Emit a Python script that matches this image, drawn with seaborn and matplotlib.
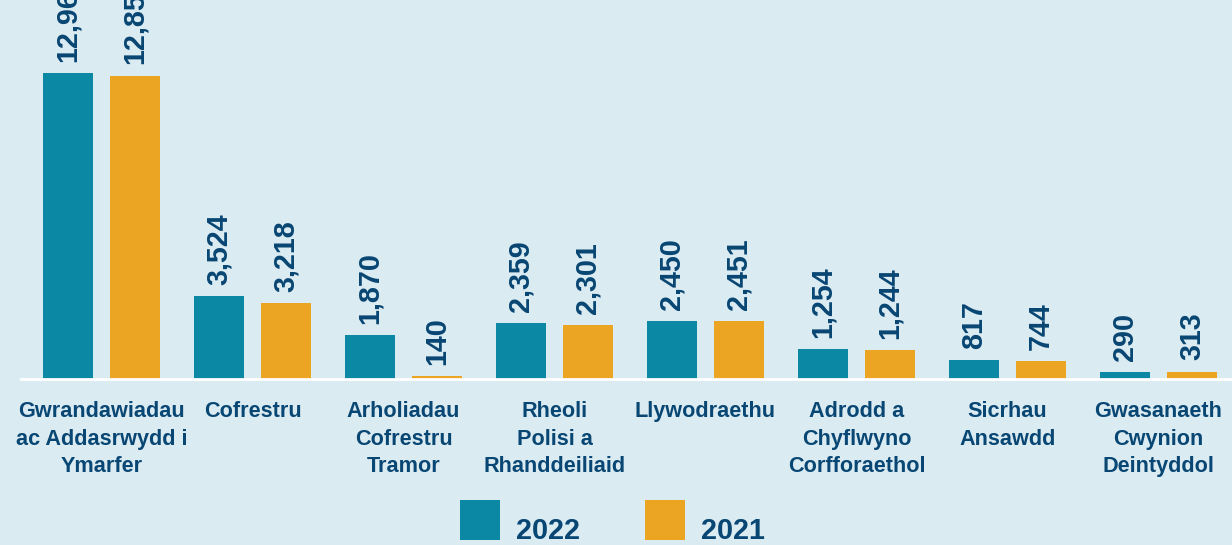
import pandas as pd
import matplotlib
matplotlib.use("Agg")
import matplotlib.pyplot as plt
from matplotlib.patches import Rectangle
import seaborn as sns

# data
categories = [
    "Gwrandawiadau\nac Addasrwydd i\nYmarfer",
    "Cofrestru",
    "Arholiadau\nCofrestru\nTramor",
    "Rheoli\nPolisi a\nRhanddeiliaid",
    "Llywodraethu",
    "Adrodd a\nChyflwyno\nCorfforaethol",
    "Sicrhau\nAnsawdd",
    "Gwasanaeth\nCwynion\nDeintyddol",
]
years = ["2022", "2021"]
values_2022 = [12960, 3524, 1870, 2359, 2450, 1254, 817, 290]
values_2021 = [12850, 3218, 140, 2301, 2451, 1244, 744, 313]

BG = "#dbebf2"
TEAL = "#0b89a4"
ORANGE = "#eba523"
NAVY = "#084673"
FONT = "Liberation Sans"

df = pd.DataFrame({
    "category": categories * 2,
    "year": [years[0]] * len(categories) + [years[1]] * len(categories),
    "value": values_2022 + values_2021,
})

sns.set_style("white")
plt.rcParams["font.family"] = [FONT, "DejaVu Sans"]

W, H = 1232, 545
fig = plt.figure(figsize=(W / 100, H / 100), dpi=100, facecolor=BG)
ax = fig.add_axes([21 / W, (H - 379) / H, (W - 21) / W, 379 / H])
ax.set_facecolor(BG)

sns.barplot(data=df, x="category", y="value", hue="year", hue_order=years,
            order=categories, palette=[TEAL, ORANGE], width=0.888, gap=0.255,
            saturation=1, legend=False, linewidth=0, ax=ax)

for cont in ax.containers:
    ax.bar_label(cont, labels=[f"{v:,.0f}" for v in cont.datavalues],
                 rotation=90, padding=8, fontsize=20.7, fontweight="bold",
                 color=NAVY)

ax.set_xlim(-0.533, 7.487)
ax.set_ylim(0, 16050)
ax.set_xlabel("")
ax.set_ylabel("")
ax.set_yticks([])
for s in ["top", "left", "right"]:
    ax.spines[s].set_visible(False)
ax.spines["bottom"].set_color("white")
ax.spines["bottom"].set_linewidth(2)
ax.tick_params(axis="x", length=0, pad=16)
for lbl in ax.get_xticklabels():
    lbl.set_fontsize(15.6)
    lbl.set_fontweight("bold")
    lbl.set_color(NAVY)
    lbl.set_linespacing(1.4)
    lbl.set_horizontalalignment("center")

# legend
for x0, col, txt, tx in [(460, TEAL, years[0], 516), (645, ORANGE, years[1], 701)]:
    fig.add_artist(Rectangle((x0 / W, (H - 540) / H), 40 / W, 40 / H,
                             transform=fig.transFigure, color=col, lw=0))
    fig.text(tx / W, (H - 539) / H, txt, fontsize=20.7, fontweight="bold",
             color=NAVY, ha="left", va="baseline")

fig.savefig("out.png", dpi=100, facecolor=BG)
